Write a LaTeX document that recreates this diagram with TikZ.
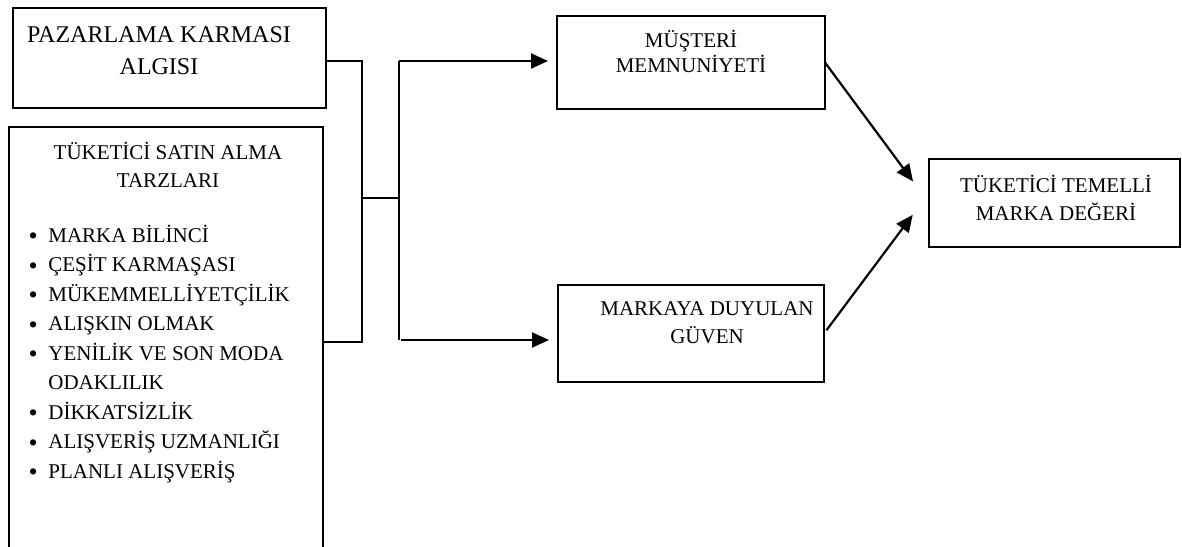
\documentclass[tikz,border=0pt]{standalone}
\usepackage{fontspec}
\setmainfont{Liberation Serif}
\usetikzlibrary{arrows.meta}
\newcommand{\blt}{\makebox[9.35pt][l]{\hspace*{-0.6pt}\raisebox{-1.3pt}{\fontsize{13}{13}\selectfont\textbullet}}}

\begin{document}
\begin{tikzpicture}[x=0.5pt,y=-0.5pt,
  box/.style={draw, line width=0.9pt, inner sep=0pt, outer sep=0pt},
  txt/.style={inner sep=0pt, anchor=base, align=center, font=\fontsize{10.5}{14}\selectfont},
  conn/.style={line width=0.7pt},
  arr/.style={line width=1.1pt, -{Triangle[length=8.5pt,width=7.5pt]}}]
  \useasboundingbox (0,0) rectangle (1182,546);
  \node[box, minimum width=156.5pt, minimum height=50pt] (pk) at (169.5,58) {};
  \node[txt, font=\fontsize{12}{16}\selectfont] (pkt) at (159,74) {PAZARLAMA KARMASI\\ALGISI};
  \node[box, minimum width=157pt, minimum height=216.5pt] (tsa) at (166,343.5) {};
  \node[txt] (tsat) at (168,187) {TÜKETİCİ SATIN ALMA\\TARZLARI};
  \node[txt, anchor=base west, align=left, font=\fontsize{10.5}{14.75}\selectfont] (lst) at (29.3,478)
    {\blt MARKA BİLİNCİ\\
     \blt ÇEŞİT KARMAŞASI\\
     \blt MÜKEMMELLİYETÇİLİK\\
     \blt ALIŞKIN OLMAK\\
     \blt YENİLİK VE SON MODA\\
     \hspace*{9.35pt}ODAKLILIK\\
     \blt DİKKATSİZLİK\\
     \blt ALIŞVERİŞ UZMANLIĞI\\
     \blt PLANLI ALIŞVERİŞ};
  \node[box, minimum width=134pt, minimum height=46.5pt] (ms) at (691,62.5) {};
  \node[txt, font=\fontsize{10.5}{12.5}\selectfont] (mst) at (691,72) {MÜŞTERİ\\MEMNUNİYETİ};
  \node[box, minimum width=133pt, minimum height=48.5pt] (mg) at (691,333.5) {};
  \node[txt] (mgt) at (707,343) {MARKAYA DUYULAN\\GÜVEN};
  \node[box, minimum width=125.5pt, minimum height=44pt] (tm) at (1054.5,203) {};
  \node[txt] (tmt) at (1056,220) {TÜKETİCİ TEMELLİ\\MARKA DEĞERİ};
  \coordinate (ja) at (362,61);
  \coordinate (jb) at (362,342);
  \coordinate (jm) at (362,198);
  \coordinate (jn) at (399,198);
  \coordinate (jc) at (399,61);
  \coordinate (jd) at (399,340);
  \draw[conn] (pk.east |- ja) -- (ja) -- (jb) -- (tsa.east |- jb);
  \draw[conn] (jm) -- (jn);
  \draw[conn] (jc) -- (jd);
  \draw[arr, shorten >=4.5pt] (jc) -- (ms.west |- jc);
  \draw[arr, shorten <=1pt, shorten >=4.5pt] (jd) -- (mg.west |- jd);
  \draw[arr, shorten >=13.4pt] (ms.east) -- (tm.west);
  \draw[arr, shorten <=2pt, shorten >=13.6pt] (mg.east) -- ([yshift=5pt]tm.west);
\end{tikzpicture}
\end{document}
